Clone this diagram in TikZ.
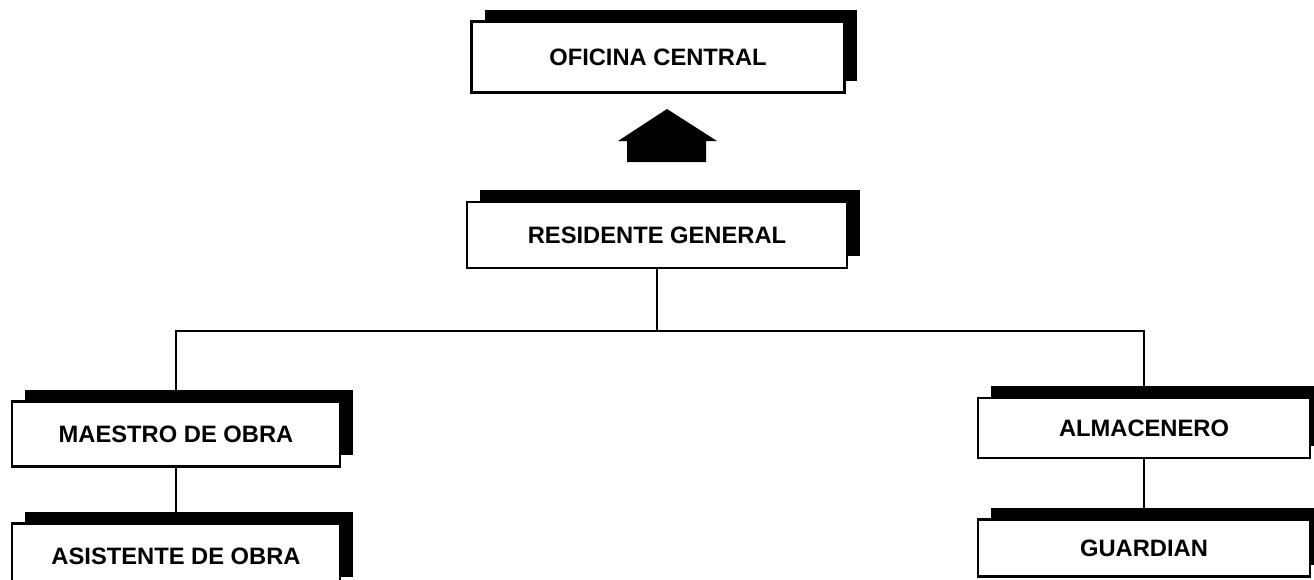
\documentclass[tikz,border=0pt]{standalone}
\usepackage{fontspec}
\setmainfont{Liberation Sans}
\usepackage{xcolor}
\usepackage{tikz}
\usetikzlibrary{arrows.meta,positioning,calc,shadows}
\definecolor{ink}{RGB}{0,0,0}
\tikzset{
  org/.style={rectangle,draw=ink,line width=1.5pt,fill=white,align=center,
              font=\fontsize{13.5}{16}\selectfont\bfseries,inner sep=0pt,
              drop shadow={shadow xshift=0.26cm,shadow yshift=0.24cm,fill=ink,opacity=1}},
  link/.style={draw=ink,line width=1.6pt},
}

\begin{document}
\begin{tikzpicture}[x=0.02cm,y=-0.02cm]
  \useasboundingbox (0,0) rectangle (1314,579);
  \node[org,minimum width=7.46cm,minimum height=1.42cm] (ofc) at (658,57) {OFICINA CENTRAL};
  \node[org,minimum width=7.6cm,minimum height=1.32cm] (res) at (657,235) {RESIDENTE GENERAL};
  \node[org,minimum width=6.56cm,minimum height=1.3cm] (mae) at (176,434) {MAESTRO DE OBRA};
  \node[org,minimum width=6.56cm,minimum height=1.3cm] (asi) at (176,556) {ASISTENTE DE OBRA};
  \node[org,minimum width=6.64cm,minimum height=1.2cm] (alm) at (1144,428) {ALMACENERO};
  \node[org,minimum width=6.64cm,minimum height=1.14cm] (gua) at (1144,548) {GUARDIAN};
  \coordinate (bus) at (res.south |- 0,331);

  % block arrow up to the head office
  \fill[ink] (627,162) -- (627,141) -- (618,141) -- (667,109) -- (717,141)
    -- (706,141) -- (706,162) -- cycle;

  \draw[link] (res.south) -- (bus);
  \draw[link] (mae.north) |- (bus) -| (alm.north);
  \draw[link] (mae.south) -- (asi.north);
  \draw[link] (alm.south) -- (gua.north);
\end{tikzpicture}
\end{document}
